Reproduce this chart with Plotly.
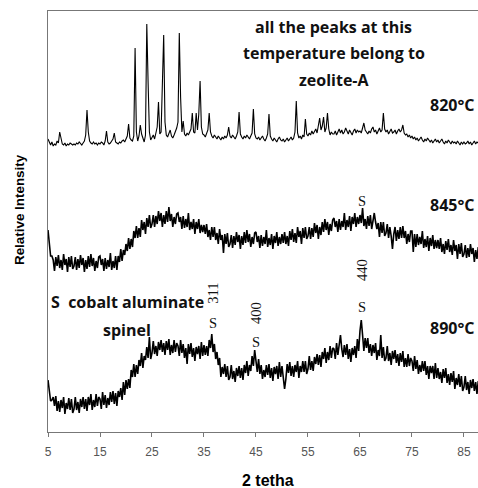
import plotly.graph_objects as go

# 2-theta scan grid (instrument step 0.25 deg, 5 .. 88)
two_theta = [round(5 + 0.25 * i, 2) for i in range(333)]

# Relative intensity (stacked, as plotted)
i_820 = [
    293, 289, 287, 290, 286, 288, 287, 291, 289, 300, 292, 288, 287, 289, 286, 288, 287, 289, 288, 287,
    288, 287, 289, 288, 290, 288, 287, 289, 291, 297, 322, 300, 291, 289, 288, 290, 288, 289, 287, 289,
    288, 290, 289, 287, 291, 301, 290, 288, 289, 291, 293, 299, 290, 289, 288, 290, 289, 291, 292, 290,
    293, 296, 308, 294, 292, 291, 296, 384, 300, 291, 296, 307, 298, 293, 290, 297, 408, 350, 300, 292,
    294, 297, 293, 299, 305, 330, 298, 300, 342, 397, 310, 297, 295, 298, 302, 296, 294, 297, 300, 304,
    310, 399, 335, 300, 311, 298, 296, 299, 297, 301, 303, 319, 300, 299, 319, 302, 318, 351, 305, 298,
    297, 295, 299, 302, 319, 300, 296, 294, 297, 295, 293, 296, 294, 292, 295, 293, 296, 294, 297, 305,
    296, 294, 297, 295, 293, 296, 300, 320, 298, 295, 293, 296, 294, 297, 295, 293, 296, 299, 323, 298,
    294, 293, 295, 292, 294, 296, 293, 291, 294, 298, 318, 296, 293, 291, 294, 292, 290, 293, 295, 292,
    291, 293, 290, 292, 294, 291, 293, 295, 292, 294, 300, 331, 299, 294, 296, 293, 297, 295, 313, 298,
    296, 299, 297, 301, 298, 300, 303, 299, 305, 314, 302, 306, 315, 300, 304, 319, 303, 297, 300, 298,
    298, 301, 297, 300, 303, 299, 302, 298, 300, 304, 301, 298, 302, 300, 297, 301, 303, 299, 302, 300,
    301, 299, 303, 309, 302, 300, 298, 301, 299, 303, 305, 300, 302, 298, 301, 304, 300, 302, 319, 303,
    300, 302, 298, 301, 303, 299, 300, 302, 298, 301, 303, 300, 302, 307, 299, 297, 298, 295, 297, 294,
    296, 293, 295, 292, 294, 291, 293, 295, 292, 290, 293, 291, 294, 292, 290, 292, 289, 291, 293, 290,
    292, 289, 291, 293, 290, 288, 291, 289, 292, 290, 288, 291, 289, 290, 288, 291, 289, 287, 290, 288,
    290, 288, 289, 291, 288, 290, 287, 289, 291, 288, 290, 289, 288,
]

i_845 = [
    202, 191, 176, 176, 172, 161, 175, 166, 177, 164, 172, 162, 178, 167, 173, 160, 175, 165, 176, 163,
    166, 175, 162, 173, 164, 177, 167, 174, 160, 172, 163, 176, 165, 178, 166, 174, 161, 171, 164, 175,
    176, 167, 173, 161, 174, 163, 172, 165, 179, 162, 171, 164, 176, 162, 176, 170, 183, 171, 182, 177,
    188, 181, 194, 183, 193, 185, 201, 194, 206, 194, 204, 195, 212, 202, 210, 198, 214, 205, 217, 204,
    208, 217, 205, 216, 208, 221, 211, 219, 205, 217, 208, 221, 210, 225, 211, 218, 205, 215, 208, 218,
    219, 210, 215, 203, 216, 204, 213, 205, 219, 202, 210, 203, 213, 198, 210, 203, 213, 199, 207, 200,
    207, 198, 208, 195, 202, 192, 205, 195, 205, 192, 199, 188, 203, 192, 197, 179, 198, 188, 199, 185,
    188, 197, 184, 196, 187, 200, 190, 197, 183, 196, 187, 200, 189, 202, 190, 198, 185, 195, 188, 199,
    200, 190, 196, 184, 197, 186, 195, 188, 202, 185, 194, 187, 198, 183, 196, 189, 200, 186, 195, 188,
    198, 189, 200, 188, 196, 186, 201, 192, 203, 190, 199, 189, 205, 195, 201, 188, 204, 194, 205, 193,
    196, 205, 193, 204, 195, 209, 199, 207, 193, 205, 197, 210, 200, 213, 202, 210, 197, 208, 201, 212,
    214, 205, 211, 200, 213, 202, 211, 205, 219, 202, 212, 205, 216, 201, 215, 208, 219, 205, 215, 208,
    217, 209, 224, 206, 213, 203, 216, 206, 217, 203, 210, 219, 210, 203, 209, 195, 210, 199, 210, 196,
    199, 208, 194, 205, 196, 183, 198, 205, 191, 202, 193, 205, 194, 206, 194, 201, 188, 198, 190, 201,
    201, 180, 198, 185, 198, 187, 195, 188, 201, 184, 193, 185, 196, 181, 194, 186, 197, 183, 192, 184,
    192, 183, 194, 180, 188, 178, 191, 182, 193, 180, 187, 177, 192, 181, 187, 173, 188, 178, 189, 175,
    178, 187, 174, 184, 175, 188, 178, 184, 170, 182, 173, 185, 174,
]

i_890 = [
    52, 42, 31, 32, 35, 26, 36, 21, 31, 20, 32, 24, 35, 18, 29, 23, 34, 22, 33, 19,
    23, 35, 22, 30, 19, 33, 25, 35, 23, 33, 21, 35, 27, 38, 22, 32, 25, 38, 26, 35,
    33, 23, 40, 27, 37, 24, 34, 27, 40, 30, 41, 28, 39, 26, 41, 35, 44, 32, 50, 37,
    52, 43, 53, 44, 62, 55, 68, 55, 67, 58, 72, 66, 79, 64, 76, 72, 85, 74, 95, 73,
    79, 91, 78, 86, 76, 90, 82, 92, 80, 89, 77, 91, 82, 93, 77, 87, 79, 92, 80, 89,
    86, 76, 92, 79, 88, 74, 84, 68, 88, 78, 89, 75, 84, 71, 85, 78, 86, 73, 90, 76,
    87, 77, 86, 76, 92, 84, 98, 80, 88, 73, 80, 67, 74, 55, 65, 58, 68, 55, 66, 52,
    55, 67, 53, 61, 50, 64, 56, 66, 54, 64, 52, 67, 59, 71, 56, 67, 61, 76, 66, 82,
    73, 60, 73, 58, 67, 53, 62, 55, 67, 57, 68, 54, 64, 51, 65, 58, 66, 53, 70, 55,
    66, 55, 43, 53, 68, 59, 70, 56, 66, 55, 67, 60, 71, 54, 66, 60, 71, 60, 71, 58,
    63, 76, 62, 71, 61, 75, 68, 78, 67, 77, 65, 80, 73, 84, 69, 80, 72, 86, 74, 84,
    83, 73, 89, 77, 87, 97, 83, 75, 87, 77, 88, 73, 83, 70, 84, 77, 86, 74, 93, 81,
    101, 112, 97, 81, 94, 84, 94, 79, 88, 76, 87, 79, 89, 72, 82, 76, 97, 74, 85, 71,
    74, 86, 71, 79, 67, 81, 73, 82, 69, 78, 66, 79, 70, 81, 65, 74, 65, 78, 66, 74,
    71, 61, 76, 63, 72, 58, 67, 60, 71, 61, 71, 57, 66, 53, 66, 59, 66, 53, 69, 54,
    64, 53, 60, 49, 63, 54, 64, 49, 58, 47, 59, 50, 61, 43, 54, 47, 58, 45, 56, 41,
    45, 56, 42, 50, 38, 52, 44, 53, 41, 50, 38, 51, 43,
]

x_ticks = [5, 15, 25, 35, 45, 55, 65, 75, 85]
temps = ["820°C", "845°C", "890°C"]
spinel_2theta = [36.7, 45.0, 65.4]
spinel_hkl = ["311", "400", "440"]

fig = go.Figure()
for ys, w in ((i_820, 1.1), (i_845, 1.6), (i_890, 1.6)):
    fig.add_trace(go.Scatter(x=two_theta, y=ys, mode="lines",
                             line=dict(color="black", width=w),
                             showlegend=False, hoverinfo="skip"))

bold = dict(family="Open Sans", size=16, color="#111111")
serif = dict(family="Liberation Serif", size=14.5, color="#111111")
ann = []
for txt, yv in zip(["all the peaks at this", "temperature belong to", "zeolite-A"], [405, 379, 352]):
    ann.append(dict(x=60.0, y=yv, text="<b>%s</b>" % txt, font=bold))
for txt, yv in zip(temps, [327, 227, 104]):
    ann.append(dict(x=87.6, y=yv, text="<b>%s</b>" % txt, font=bold, xanchor="right"))
ann.append(dict(x=5.2, y=130, text="<b>S  cobalt aluminate</b>", font=bold, xanchor="left"))
ann.append(dict(x=20.2, y=102, text="<b>spinel</b>", font=bold))
# spinel reflection labels
for xv, ys_, yn, hkl in zip(spinel_2theta, [109, 90, 125], [139, 119, 162], spinel_hkl):
    ann.append(dict(x=xv, y=ys_, text="S", font=serif))
    ann.append(dict(x=xv, y=yn, text=hkl, font=serif, textangle=-90))
ann.append(dict(x=65.4, y=231, text="S", font=serif))
for a in ann:
    a.setdefault("xref", "x")
    a.setdefault("yref", "y")
    a["showarrow"] = False
ann.append(dict(x=(19 - 48) / 430, y=(432 - 210) / 421, xref="paper", yref="paper",
                xanchor="center", yanchor="middle",
                text="<b>Relative Intensity</b>", textangle=-90, showarrow=False,
                font=dict(family="Liberation Sans", size=13.4, color="black")))
ann.append(dict(x=(268 - 48) / 430, y=(432 - 480) / 421, xref="paper", yref="paper",
                xanchor="center", yanchor="middle",
                text="<b>2 tetha</b>", showarrow=False,
                font=dict(family="Liberation Sans", size=16, color="black")))

fig.update_layout(
    width=478, height=488,
    margin=dict(l=48, r=0, t=11, b=56),
    plot_bgcolor="white", paper_bgcolor="white",
    annotations=ann,
    xaxis=dict(range=[5, 87.7], tickvals=x_ticks, ticks="outside", ticklen=4,
               tickcolor="#777", showline=True, linecolor="#777", linewidth=1,
               mirror=True, showgrid=False, zeroline=False, ticklabelstandoff=5,
               tickfont=dict(family="Liberation Sans", size=12, color="#555")),
    yaxis=dict(range=[0, 421], showticklabels=False, ticks="", showline=True,
               linecolor="#777", linewidth=1, showgrid=False, zeroline=False),
)
fig.write_html("out.html")
